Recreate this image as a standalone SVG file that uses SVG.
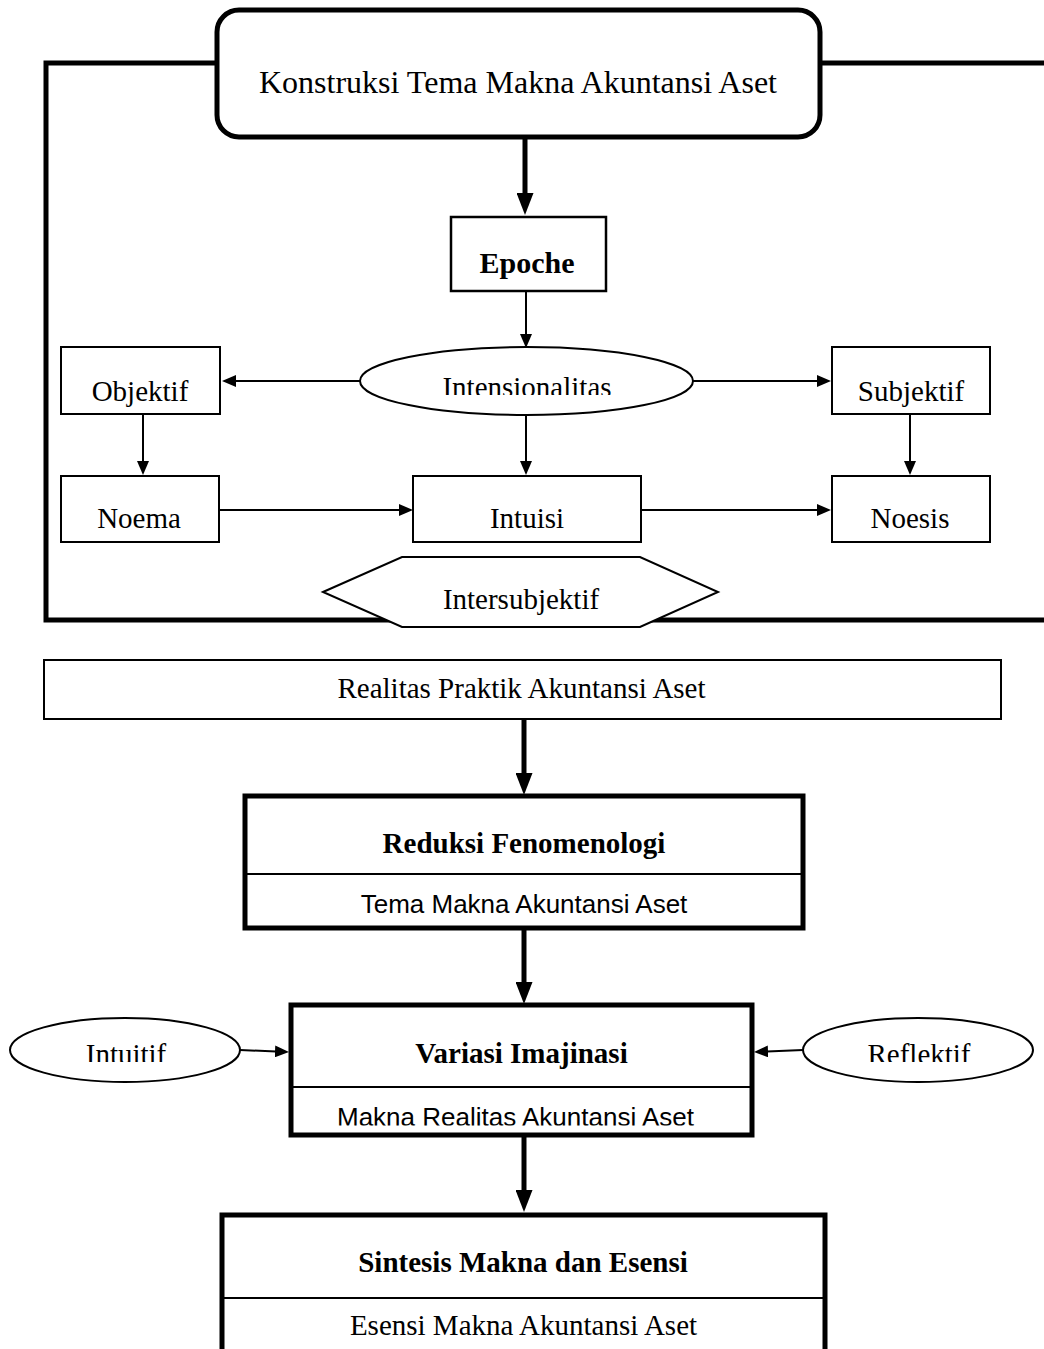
<svg xmlns="http://www.w3.org/2000/svg" width="1044" height="1349" viewBox="0 0 1044 1349">
<style>
.serif{font-family:"Liberation Serif","Times New Roman",serif;font-size:29px;fill:#000;text-anchor:middle}
.bold{font-weight:bold}
.sans{font-family:"Liberation Sans",Arial,sans-serif;font-size:26px;fill:#000;text-anchor:middle}
.thin{fill:#fff;stroke:#000;stroke-width:2}
.thick{fill:#fff;stroke:#000;stroke-width:5}
.c-thick{stroke:#000;stroke-width:5;fill:none}
.c-thin{stroke:#000;stroke-width:2;fill:none}
</style>
<defs>
<marker id="headBig" markerUnits="userSpaceOnUse" viewBox="0 0 22 17" refX="1" refY="8.5" markerWidth="22" markerHeight="17" orient="auto"><path d="M0,0 L22,8.5 L0,17 z" fill="#000"/></marker>
<marker id="headSmall" markerUnits="userSpaceOnUse" viewBox="0 0 14 12" refX="1" refY="6" markerWidth="14" markerHeight="12" orient="auto"><path d="M0,0 L14,6 L0,12 z" fill="#000"/></marker>
<clipPath id="clipIntens"><rect x="0" y="0" width="1044" height="395"/></clipPath>
<clipPath id="clipEll"><rect x="0" y="0" width="1044" height="1062"/></clipPath>
<clipPath id="clipMR"><rect x="0" y="0" width="1044" height="1125.5"/></clipPath>
</defs>
<rect width="1044" height="1349" fill="#fff"/>

<g id="frame">
<path class="c-thick" d="M217,63 H46 V620 H1044"/>
<path class="c-thick" d="M820,63 H1044"/>
</g>

<g id="connectors">
<line class="c-thick" x1="525" y1="139" x2="525" y2="194" marker-end="url(#headBig)"/>
<line class="c-thin" x1="526" y1="292" x2="526" y2="335" marker-end="url(#headSmall)"/>
<line class="c-thin" x1="360" y1="381" x2="235" y2="381" marker-end="url(#headSmall)"/>
<line class="c-thin" x1="693" y1="381" x2="818" y2="381" marker-end="url(#headSmall)"/>
<line class="c-thin" x1="143" y1="415" x2="143" y2="462" marker-end="url(#headSmall)"/>
<line class="c-thin" x1="526" y1="415" x2="526" y2="462" marker-end="url(#headSmall)"/>
<line class="c-thin" x1="910" y1="415" x2="910" y2="462" marker-end="url(#headSmall)"/>
<line class="c-thin" x1="219" y1="510" x2="400" y2="510" marker-end="url(#headSmall)"/>
<line class="c-thin" x1="641" y1="510" x2="818" y2="510" marker-end="url(#headSmall)"/>
<line class="c-thick" x1="524" y1="720" x2="524" y2="774" marker-end="url(#headBig)"/>
<line class="c-thick" x1="524" y1="930" x2="524" y2="983" marker-end="url(#headBig)"/>
<line class="c-thin" x1="240" y1="1050" x2="276" y2="1051.5" marker-end="url(#headSmall)"/>
<line class="c-thin" x1="803" y1="1050" x2="767" y2="1051.5" marker-end="url(#headSmall)"/>
<line class="c-thick" x1="524" y1="1137" x2="524" y2="1191" marker-end="url(#headBig)"/>
</g>

<g id="konstruksi">
<rect class="thick" x="217" y="10" width="603" height="127" rx="22"/>
<text class="serif" x="518" y="93" style="font-size:32px">Konstruksi Tema Makna Akuntansi Aset</text>
</g>

<g id="epoche">
<rect class="thin" x="451" y="217" width="155" height="74" style="stroke-width:2.5"/>
<text class="serif bold" x="527" y="273" style="font-size:30px">Epoche</text>
</g>

<g id="intensionalitas">
<ellipse class="thin" cx="526.5" cy="381" rx="166.5" ry="34"/>
<text class="serif" x="527" y="397" clip-path="url(#clipIntens)">Intensionalitas</text>
</g>

<g id="objektif">
<rect class="thin" x="61" y="347" width="159" height="67"/>
<text class="serif" x="140" y="401">Objektif</text>
</g>

<g id="subjektif">
<rect class="thin" x="832" y="347" width="158" height="67"/>
<text class="serif" x="911" y="401">Subjektif</text>
</g>

<g id="noema">
<rect class="thin" x="61" y="476" width="158" height="66"/>
<text class="serif" x="139" y="528">Noema</text>
</g>

<g id="intuisi">
<rect class="thin" x="413" y="476" width="228" height="66"/>
<text class="serif" x="527" y="528">Intuisi</text>
</g>

<g id="noesis">
<rect class="thin" x="832" y="476" width="158" height="66"/>
<text class="serif" x="910" y="528">Noesis</text>
</g>

<g id="intersubjektif">
<polygon class="thin" points="323,592 402,557 640,557 718,592 640,627 402,627"/>
<text class="serif" x="521" y="609">Intersubjektif</text>
</g>

<g id="realitas">
<rect class="thin" x="44" y="660" width="957" height="59"/>
<text class="serif" x="521.5" y="698">Realitas Praktik Akuntansi Aset</text>
</g>

<g id="reduksi">
<rect class="thick" x="245" y="796" width="558" height="132"/>
<line class="c-thin" x1="245" y1="874" x2="803" y2="874"/>
<text class="serif bold" x="524" y="853">Reduksi Fenomenologi</text>
<text class="sans" x="524" y="913">Tema Makna Akuntansi Aset</text>
</g>

<g id="intuitif">
<ellipse class="thin" cx="125" cy="1050" rx="115" ry="32"/>
<text class="serif" x="126" y="1064" clip-path="url(#clipEll)">Intuitif</text>
</g>

<g id="reflektif">
<ellipse class="thin" cx="918" cy="1050" rx="115" ry="32"/>
<text class="serif" x="919" y="1064" clip-path="url(#clipEll)">Reflektif</text>
</g>

<g id="variasi">
<rect class="thick" x="291" y="1005" width="461" height="130"/>
<line class="c-thin" x1="291" y1="1087" x2="752" y2="1087"/>
<text class="serif bold" x="521.5" y="1063">Variasi Imajinasi</text>
<text class="sans" x="515.5" y="1126" clip-path="url(#clipMR)">Makna Realitas Akuntansi Aset</text>
</g>

<g id="sintesis">
<rect class="thick" x="222" y="1215" width="603" height="200"/>
<line class="c-thin" x1="222" y1="1298" x2="825" y2="1298"/>
<text class="serif bold" x="523" y="1272">Sintesis Makna dan Esensi</text>
<text class="serif" x="523.5" y="1335">Esensi Makna Akuntansi Aset</text>
</g>
</svg>
